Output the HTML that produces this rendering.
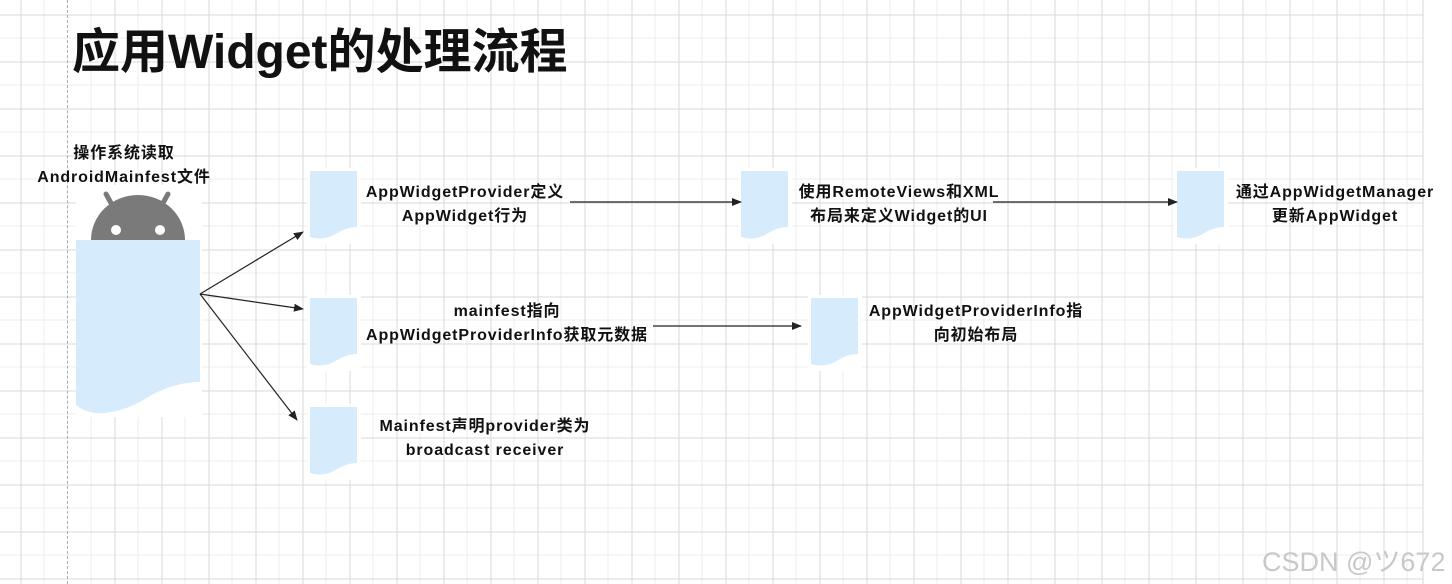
<!DOCTYPE html>
<html><head><meta charset="utf-8"><style>
html,body{margin:0;padding:0}
body{width:1452px;height:584px;position:relative;overflow:hidden;background:#fff;font-family:"Liberation Sans","Noto Sans CJK SC",sans-serif}
.dash{position:absolute;left:67px;top:0;width:0;height:584px;border-left:1px dashed #aaa}
.t{position:absolute;font-weight:bold;color:#111;font-size:16px;line-height:24px;text-align:center;white-space:nowrap;letter-spacing:0.9px}
.title{position:absolute;left:72px;top:24px;font-size:48px;font-weight:bold;color:#111;line-height:58px;white-space:nowrap}
.wm{position:absolute;left:1262px;top:540px;font-size:27px;color:#c8c8c8;white-space:nowrap}
</style></head><body>
<svg width="1452" height="584" style="position:absolute;left:0;top:0" shape-rendering="crispEdges">
<g stroke="#ececec" stroke-width="1">
<path d="M44,0V584M91,0V584M138,0V584M185,0V584M232,0V584M279,0V584M326,0V584M373,0V584M420,0V584M467,0V584M514,0V584M561,0V584M608,0V584M655,0V584M702,0V584M749,0V584M796,0V584M843,0V584M890,0V584M937,0V584M984,0V584M1031,0V584M1078,0V584M1125,0V584M1172,0V584M1219,0V584M1266,0V584M1313,0V584M1360,0V584M1407,0V584"/>
<path d="M0,38H1423M0,85H1423M0,132H1423M0,179H1423M0,226H1423M0,273H1423M0,320H1423M0,367H1423M0,414H1423M0,461H1423M0,508H1423M0,555H1423"/>
</g>
<g stroke="#d9d9d9" stroke-width="1">
<path d="M21,0V584M115,0V584M162,0V584M209,0V584M256,0V584M303,0V584M350,0V584M397,0V584M444,0V584M491,0V584M538,0V584M585,0V584M632,0V584M679,0V584M726,0V584M773,0V584M820,0V584M867,0V584M914,0V584M961,0V584M1008,0V584M1055,0V584M1102,0V584M1149,0V584M1196,0V584M1243,0V584M1290,0V584M1337,0V584M1384,0V584M1423,0V584"/>
<path d="M0,15H1423M0,62H1423M0,109H1423M0,156H1423M0,203H1423M0,250H1423M0,297H1423M0,344H1423M0,391H1423M0,438H1423M0,485H1423M0,532H1423M0,579H1423"/>
</g>
</svg>
<div class="dash"></div>
<div class="title">应用Widget的处理流程</div>
<svg width="1452" height="584" style="position:absolute;left:0;top:0">
<defs>
<marker id="a" markerWidth="10" markerHeight="8" refX="9" refY="4" orient="auto" markerUnits="userSpaceOnUse"><path d="M0,0 L10,4 L0,8 z" fill="#222"/></marker>
<g id="doc"><rect x="-3" y="-3" width="54" height="76" fill="#fff"/><path d="M0,0 H47 V56 Q36,56 24,64 Q12,70 0,66 Z" fill="#d6ecfd"/></g>
</defs>
<rect x="76" y="185" width="126" height="232" fill="#fff"/>
<path d="M91,240 A47,45 0 0 1 185,240 Z" fill="#7a7a7a"/>
<line x1="106" y1="194" x2="116" y2="212" stroke="#7a7a7a" stroke-width="5" stroke-linecap="round"/>
<line x1="168" y1="194" x2="158" y2="212" stroke="#7a7a7a" stroke-width="5" stroke-linecap="round"/>
<circle cx="116" cy="230" r="5" fill="#fff"/><circle cx="160" cy="230" r="5" fill="#fff"/>
<path d="M76,240 H200 V382 Q175,382 150,396 Q120,415 95,413 Q84,412 76,405 Z" fill="#d6ecfd"/>
<use href="#doc" x="310" y="171"/>
<use href="#doc" x="310" y="298"/>
<use href="#doc" x="310" y="407"/>
<use href="#doc" x="741" y="171"/>
<use href="#doc" x="1177" y="171"/>
<use href="#doc" x="811" y="298"/>
<g stroke="#222" stroke-width="1.2" fill="none">
<line x1="200" y1="294" x2="303" y2="232" marker-end="url(#a)"/>
<line x1="200" y1="294" x2="303" y2="309" marker-end="url(#a)"/>
<line x1="200" y1="294" x2="297" y2="420" marker-end="url(#a)"/>
<line x1="570" y1="202" x2="741" y2="202" marker-end="url(#a)"/>
<line x1="993" y1="202" x2="1177" y2="202" marker-end="url(#a)"/>
<line x1="653" y1="326" x2="801" y2="326" marker-end="url(#a)"/>
</g>
</svg>
<div class="t" style="left:4px;width:240px;top:142px">操作系统读取<br>AndroidMainfest文件</div>
<div class="t" style="left:345px;width:240px;top:181px">AppWidgetProvider定义<br>AppWidget行为</div>
<div class="t" style="left:779px;width:240px;top:181px">使用RemoteViews和XML<br>布局来定义Widget的UI</div>
<div class="t" style="left:1215px;width:240px;top:181px">通过AppWidgetManager<br>更新AppWidget</div>
<div class="t" style="left:342px;width:330px;top:300px">mainfest指向<br>AppWidgetProviderInfo获取元数据</div>
<div class="t" style="left:851px;width:250px;top:300px">AppWidgetProviderInfo指<br>向初始布局</div>
<div class="t" style="left:360px;width:250px;top:415px">Mainfest声明provider类为<br>broadcast receiver</div>
<div class="wm">CSDN @ツ672</div>
</body></html>
